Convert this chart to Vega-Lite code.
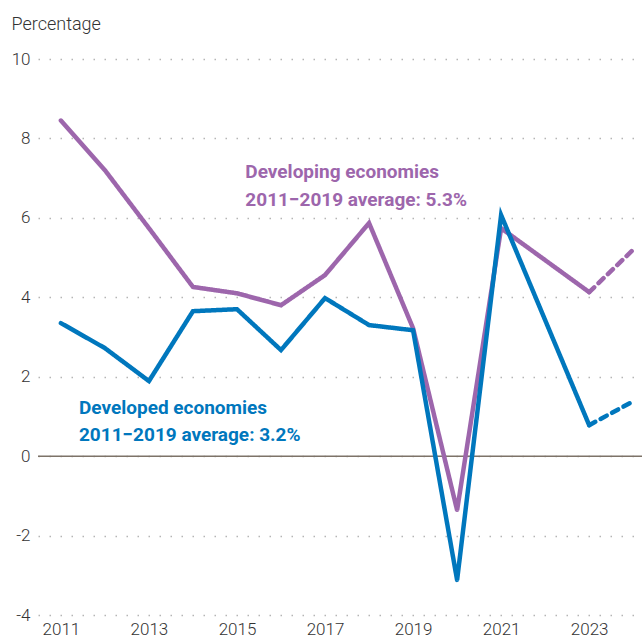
{
  "$schema": "https://vega.github.io/schema/vega-lite/v6.json",
  "autosize": "none",
  "width": 604,
  "height": 556,
  "padding": {"left": 38, "top": 59, "right": 0, "bottom": 28},
  "background": "white",
  "config": {"view": {"stroke": null}, "font": "Roboto"},
  "datasets": {
    "series": [
      {"year": 2011, "value": 8.45, "group": "Developing", "part": "actual"},
      {"year": 2012, "value": 7.2, "group": "Developing", "part": "actual"},
      {"year": 2013, "value": 5.74, "group": "Developing", "part": "actual"},
      {"year": 2014, "value": 4.26, "group": "Developing", "part": "actual"},
      {"year": 2015, "value": 4.1, "group": "Developing", "part": "actual"},
      {"year": 2016, "value": 3.8, "group": "Developing", "part": "actual"},
      {"year": 2017, "value": 4.56, "group": "Developing", "part": "actual"},
      {"year": 2018, "value": 5.87, "group": "Developing", "part": "actual"},
      {"year": 2019, "value": 3.22, "group": "Developing", "part": "actual"},
      {"year": 2020, "value": -1.36, "group": "Developing", "part": "actual"},
      {"year": 2021, "value": 5.74, "group": "Developing", "part": "actual"},
      {"year": 2023, "value": 4.13, "group": "Developing", "part": "actual"},
      {"year": 2023, "value": 4.13, "group": "Developing", "part": "projection"},
      {"year": 2024, "value": 5.2, "group": "Developing", "part": "projection"},
      {"year": 2011, "value": 3.35, "group": "Developed", "part": "actual"},
      {"year": 2012, "value": 2.72, "group": "Developed", "part": "actual"},
      {"year": 2013, "value": 1.89, "group": "Developed", "part": "actual"},
      {"year": 2014, "value": 3.65, "group": "Developed", "part": "actual"},
      {"year": 2015, "value": 3.7, "group": "Developed", "part": "actual"},
      {"year": 2016, "value": 2.67, "group": "Developed", "part": "actual"},
      {"year": 2017, "value": 3.98, "group": "Developed", "part": "actual"},
      {"year": 2018, "value": 3.3, "group": "Developed", "part": "actual"},
      {"year": 2019, "value": 3.17, "group": "Developed", "part": "actual"},
      {"year": 2020, "value": -3.12, "group": "Developed", "part": "actual"},
      {"year": 2021, "value": 6.07, "group": "Developed", "part": "actual"},
      {"year": 2023, "value": 0.78, "group": "Developed", "part": "actual"},
      {"year": 2023, "value": 0.78, "group": "Developed", "part": "projection"},
      {"year": 2024, "value": 1.38, "group": "Developed", "part": "projection"}
    ],
    "labels": [
      {"year": 2015.19, "value": 7.15, "group": "Developing", "text": "Developing economies"},
      {"year": 2015.19, "value": 6.45, "group": "Developing", "text": "2011−2019 average: 5.3%"},
      {"year": 2011.41, "value": 1.21, "group": "Developed", "text": "Developed economies"},
      {"year": 2011.41, "value": 0.53, "group": "Developed", "text": "2011−2019 average: 3.2%"}
    ],
    "zero": [{"value": 0}]
  },
  "layer": [
    {
      "data": {"name": "zero"},
      "mark": {"type": "rule", "color": "#7d7368", "strokeWidth": 1.5},
      "encoding": {
        "y": {
          "field": "value",
          "type": "quantitative",
          "scale": {"domain": [-4, 10], "nice": false, "zero": false},
          "axis": {
            "values": [-4, -2, 0, 2, 4, 6, 8, 10],
            "labelExpr": "replace(datum.label, '−', '-')",
            "title": "Percentage",
            "titleAngle": 0,
            "titleAlign": "left",
            "titleBaseline": "alphabetic",
            "titleX": -27,
            "titleY": -30,
            "titleFont": "Roboto",
            "titleFontWeight": 300,
            "titleFontSize": 18,
            "titleColor": "#333333",
            "labelFont": "Roboto",
            "labelFontWeight": 300,
            "labelFontSize": 17,
            "labelColor": "#333333",
            "labelPadding": 8,
            "ticks": false,
            "domain": false,
            "grid": true,
            "gridColor": "#b5b5b5",
            "gridDash": [1.5, 9.5],
            "gridWidth": 1.5
          }
        }
      }
    },
    {
      "data": {"name": "series"},
      "mark": {"type": "line", "strokeWidth": 4.5, "strokeCap": "round", "strokeJoin": "miter"},
      "encoding": {
        "x": {
          "field": "year",
          "type": "quantitative",
          "scale": {"domain": [2010.48, 2024.2], "nice": false, "zero": false},
          "axis": {
            "values": [2011, 2013, 2015, 2017, 2019, 2021, 2023],
            "format": "d",
            "title": null,
            "labelFont": "Roboto",
            "labelFontWeight": 300,
            "labelFontSize": 17,
            "labelColor": "#333333",
            "labelPadding": 6,
            "ticks": false,
            "domain": false,
            "grid": false
          }
        },
        "y": {"field": "value", "type": "quantitative"},
        "color": {
          "field": "group",
          "type": "nominal",
          "scale": {"domain": ["Developing", "Developed"], "range": ["#9d66ac", "#0077bd"]},
          "legend": null
        },
        "strokeDash": {
          "field": "part",
          "type": "nominal",
          "scale": {"domain": ["actual", "projection"], "range": [[1, 0], [7, 6]]},
          "legend": null
        },
        "detail": {"field": "part"}
      }
    },
    {
      "data": {"name": "labels"},
      "mark": {"type": "text", "align": "left", "baseline": "middle", "font": "Roboto", "fontWeight": "bold", "fontSize": 19},
      "encoding": {
        "x": {"field": "year", "type": "quantitative"},
        "y": {"field": "value", "type": "quantitative"},
        "text": {"field": "text"},
        "color": {"field": "group", "type": "nominal", "legend": null}
      }
    }
  ]
}
